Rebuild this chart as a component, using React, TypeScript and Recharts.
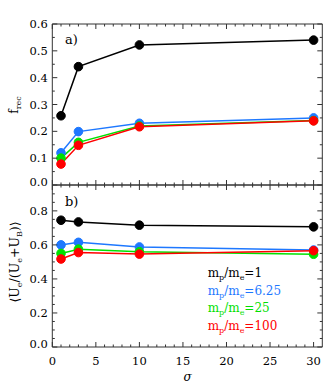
import React from 'react';
import { LineChart, Line, XAxis, YAxis } from 'recharts';

const sigma = [1, 3, 10, 30];
const fRec1 = [0.258, 0.441, 0.522, 0.54];
const fRec625 = [0.12, 0.199, 0.23, 0.25];
const fRec25 = [0.1, 0.159, 0.22, 0.24];
const fRec100 = [0.078, 0.148, 0.217, 0.239];
const ue1 = [0.745, 0.735, 0.716, 0.706];
const ue625 = [0.6, 0.615, 0.588, 0.57];
const ue25 = [0.55, 0.575, 0.56, 0.545];
const ue100 = [0.517, 0.555, 0.546, 0.566];
const massRatios = ['1', '6.25', '25', '100'];
const seriesKeys = ['r1', 'r625', 'r25', 'r100'];
const colors = ['#000000', '#1e78ff', '#00e000', '#ff0000'];
const xTicks = [0, 1, 2, 3, 4, 5, 6, 7, 8, 9, 10, 11, 12, 13, 14, 15, 16, 17, 18, 19, 20, 21, 22, 23, 24, 25, 26, 27, 28, 29, 30];
const yTicksA = [0, 0.05, 0.1, 0.15, 0.2, 0.25, 0.3, 0.35, 0.4, 0.45, 0.5, 0.55, 0.6];
const yTicksB = [0, 0.05, 0.1, 0.15, 0.2, 0.25, 0.3, 0.35, 0.4, 0.45, 0.5, 0.55, 0.6, 0.65, 0.7, 0.75, 0.8, 0.85, 0.9];

const dataA = sigma.map((s, i) => ({ sigma: s, r1: fRec1[i], r625: fRec625[i], r25: fRec25[i], r100: fRec100[i] }));
const dataB = sigma.map((s, i) => ({ sigma: s, r1: ue1[i], r625: ue625[i], r25: ue25[i], r100: ue100[i] }));

const AX = '#333';
const FONT = 'DejaVu Serif';
const FS = 11.5;

const XTick = (props: any) => {
  const { x, y, payload, top, label } = props;
  const v = payload.value;
  const major = v % 5 === 0;
  const len = major ? 5 : 2.5;
  return (
    <g>
      <line x1={x} x2={x} y1={y} y2={top ? y + len : y - len} stroke={AX} strokeWidth={1} />
      {label && major && (
        <text x={x} y={y + 18} textAnchor="middle" fontFamily={FONT} fontSize={FS} fill="#000">
          {v}
        </text>
      )}
    </g>
  );
};

const YTick = (props: any) => {
  const { x, y, payload, right, step } = props;
  const v = payload.value;
  const h = Math.round(v * 100);
  const major = h % step === 0;
  const len = major ? 5 : 2.5;
  const dy = h === 0 ? -3.5 : 0;
  return (
    <g>
      <line x1={x} x2={right ? x - len : x + len} y1={y} y2={y} stroke={AX} strokeWidth={1} />
      {!right && major && (
        <text x={x - 4.5} y={y + 4 + dy} textAnchor="end" fontFamily={FONT} fontSize={FS} fill="#000">
          {v.toFixed(1)}
        </text>
      )}
    </g>
  );
};

const Panel = ({ data, domainY, ticksY, step, margin, showXLabels }: any) => (
  <LineChart width={330} height={389} data={data} margin={margin}>
    <XAxis
      xAxisId="b"
      dataKey="sigma"
      type="number"
      domain={[0, 31]}
      ticks={xTicks}
      interval={0}
      height={1}
      tickSize={0}
      tickMargin={0}
      tickLine={false}
      axisLine={{ stroke: AX }}
      tick={(p: any) => <XTick {...p} label={showXLabels} />}
    />
    <XAxis
      xAxisId="t"
      orientation="top"
      dataKey="sigma"
      type="number"
      domain={[0, 31]}
      ticks={xTicks}
      interval={0}
      height={1}
      tickSize={0}
      tickMargin={0}
      tickLine={false}
      axisLine={{ stroke: AX }}
      tick={(p: any) => <XTick {...p} top />}
    />
    <YAxis
      yAxisId="l"
      type="number"
      domain={domainY}
      ticks={ticksY}
      interval={0}
      width={52.3}
      tickSize={0}
      tickMargin={0}
      tickLine={false}
      axisLine={{ stroke: AX }}
      allowDataOverflow
      tick={(p: any) => <YTick {...p} step={step} />}
    />
    <YAxis
      yAxisId="r"
      orientation="right"
      type="number"
      domain={domainY}
      ticks={ticksY}
      interval={0}
      width={7.7}
      tickSize={0}
      tickMargin={0}
      tickLine={false}
      axisLine={{ stroke: AX }}
      allowDataOverflow
      tick={(p: any) => <YTick {...p} step={step} right />}
    />
    {seriesKeys.map((k, i) => (
      <Line
        key={k}
        xAxisId="b"
        yAxisId="l"
        dataKey={k}
        stroke={colors[i]}
        strokeWidth={1.5}
        dot={{ r: 4.3, fill: colors[i], stroke: colors[i], strokeWidth: 1 }}
        isAnimationActive={false}
      />
    ))}
  </LineChart>
);

const Sub = ({ children }: any) => (
  <tspan fontSize={8} dy={3}>{children}</tspan>
);

export default function App() {
  return (
    <div style={{ position: 'absolute', left: 0, top: 0, width: 330, height: 389, background: '#fff' }}>
      <div style={{ position: 'absolute', left: 0, top: 0 }}>
        <Panel data={dataA} domainY={[0, 0.6]} ticksY={yTicksA} step={10} margin={{ top: 23, right: 0, bottom: 203, left: 0 }} showXLabels={false} />
      </div>
      <div style={{ position: 'absolute', left: 0, top: 0 }}>
        <Panel data={dataB} domainY={[0, 0.952]} ticksY={yTicksB} step={20} margin={{ top: 184, right: 0, bottom: 41, left: 0 }} showXLabels />
      </div>
      <svg width={330} height={389} style={{ position: 'absolute', left: 0, top: 0, pointerEvents: 'none' }}>
        <text x={65} y={44} fontFamily={FONT} fontSize={13} fill="#000">a)</text>
        <text x={65} y={206} fontFamily={FONT} fontSize={13} fill="#000">b)</text>
        <text transform="translate(18,105) rotate(-90)" textAnchor="middle" fontFamily={FONT} fontSize={12} fill="#000">
          f<tspan fontSize={8} dy={3}>rec</tspan>
        </text>
        <text transform="translate(19,262) rotate(-90)" textAnchor="middle" fontFamily={FONT} fontSize={12.5} fill="#000">
          {'\u27e8U'}<Sub>e</Sub><tspan dy={-3}>/(U</tspan><Sub>e</Sub><tspan dy={-3}>+U</tspan><Sub>B</Sub><tspan dy={-3}>{')\u27e9'}</tspan>
        </text>
        <text x={187.5} y={381} textAnchor="middle" fontFamily={FONT} fontStyle="italic" fontSize={12} fill="#000">σ</text>
        {massRatios.map((m, i) => (
          <text key={m} x={207.7} y={277 + i * 17.6} fontFamily={FONT} fontSize={12} fill={colors[i]}>
            m<Sub>p</Sub><tspan dy={-3}>/m</tspan><Sub>e</Sub><tspan dy={-3}>={m}</tspan>
          </text>
        ))}
      </svg>
    </div>
  );
}
